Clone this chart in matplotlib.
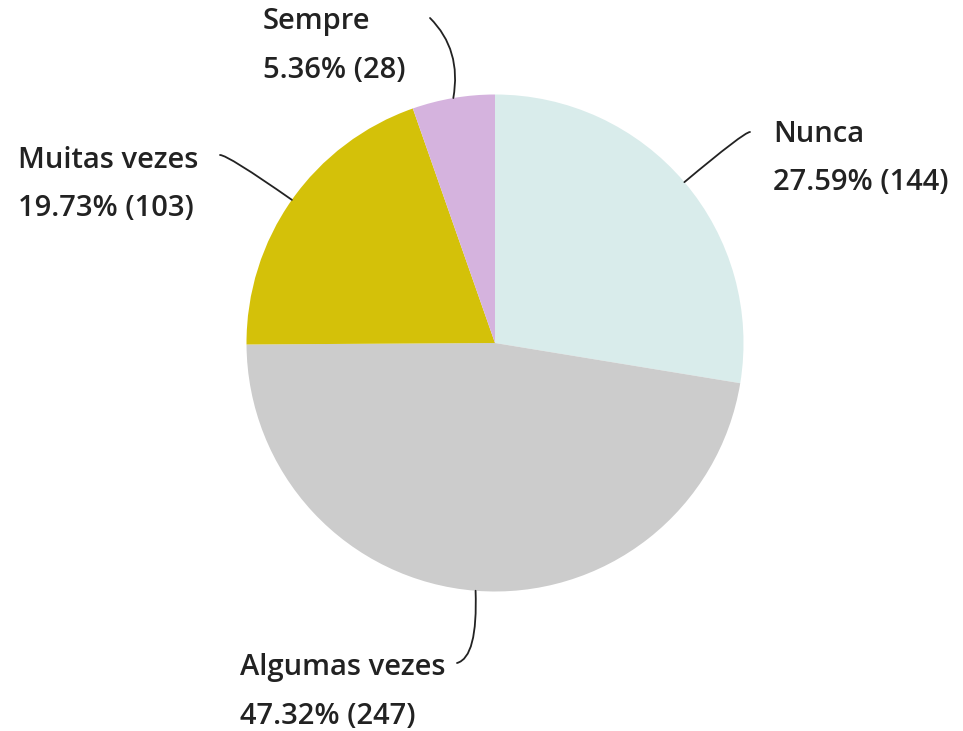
import numpy as np
import matplotlib.pyplot as plt

# Survey answers, clockwise from 12 o'clock
labels = ['Nunca', 'Algumas vezes', 'Muitas vezes', 'Sempre']
counts = [144, 247, 103, 28]
colors = ['#d9eceb', '#cccccc', '#d4c109', '#d5b3de']

W, H = 963, 731
fig = plt.figure(figsize=(W / 100, H / 100), dpi=100)
ax = fig.add_axes([0, 0, 1, 1])

cx, cy, r = 495, H - 343, 248.5
wedges, _ = ax.pie(counts, colors=colors, startangle=90, counterclock=False,
                   center=(cx, cy), radius=r, frame=True,
                   wedgeprops=dict(linewidth=0))
ax.set_xlim(0, W)
ax.set_ylim(0, H)
ax.set_aspect('equal')
ax.axis('off')

total = sum(counts)
# text anchor (left, top-line y) and leader end point, in pixels from top-left
text_pos = {'Nunca': (773, 135), 'Algumas vezes': (240, 668),
            'Muitas vezes': (18, 160), 'Sempre': (263, 22)}
line_end = {'Nunca': (750, 132), 'Algumas vezes': (457, 663),
            'Muitas vezes': (220, 155), 'Sempre': (430, 18)}
# angles of the leader at the text end and at the pie end
line_ang = {'Nunca': (0, 40), 'Algumas vezes': (15, 92),
            'Muitas vezes': (0, -35), 'Sempre': (-45, 80)}

font = dict(family=['Open Sans', 'DejaVu Sans'], fontsize=21, fontweight='semibold',
            color='#222222')
for w, lab, n in zip(wedges, labels, counts):
    ang = np.deg2rad((w.theta1 + w.theta2) / 2)
    px, py = cx + r * np.cos(ang), cy + r * np.sin(ang)
    tx, ty = text_pos[lab]
    ax.text(tx, H - ty, lab, va='center', ha='left', **font)
    ax.text(tx, H - ty - 48, f'{n / total * 100:.2f}% ({n})', va='center',
            ha='left', **font)
    ex, ey = line_end[lab]
    a, b = line_ang[lab]
    ax.annotate('', xy=(px, py), xytext=(ex, H - ey),
                arrowprops=dict(arrowstyle='-', color='#222222', lw=1.3,
                                shrinkA=0, shrinkB=0,
                                connectionstyle=f'angle3,angleA={a},angleB={b}'))

fig.savefig('out.png', dpi=100)
